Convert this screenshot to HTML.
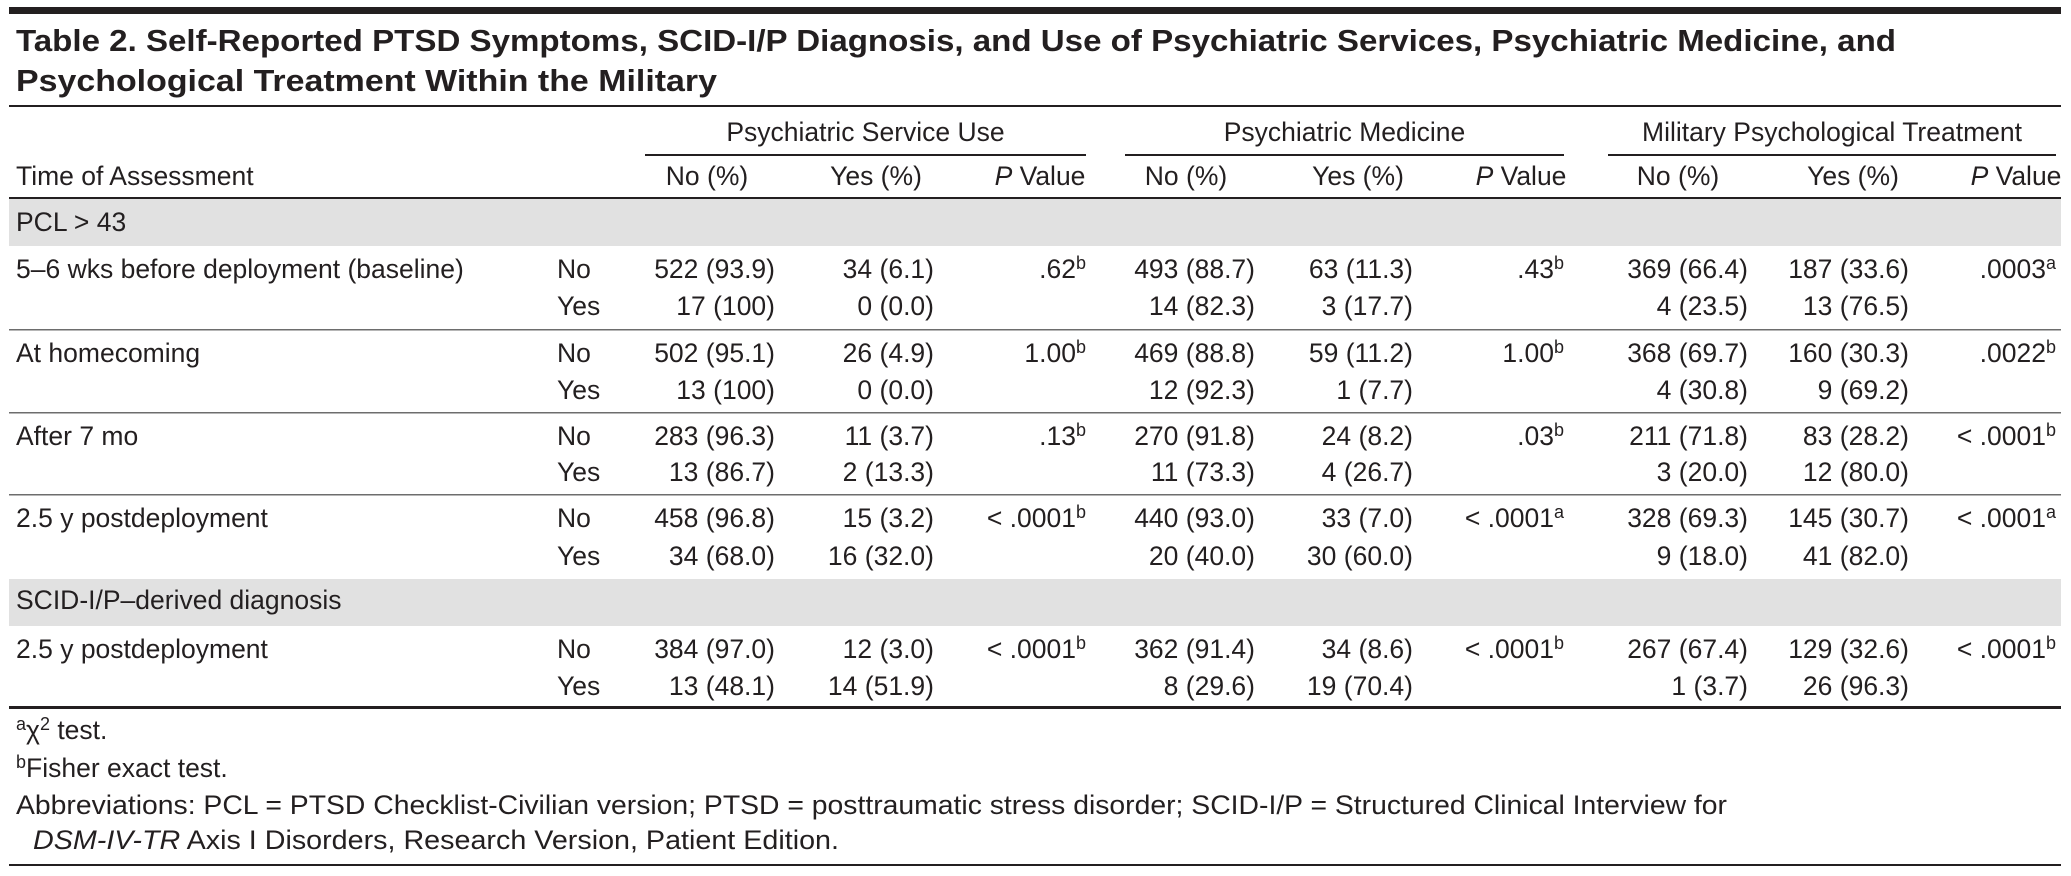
<!DOCTYPE html>
<html><head><meta charset="utf-8"><style>
html,body{margin:0;padding:0;background:#fff;}
svg{display:block;font-family:"Liberation Sans",sans-serif;}
</style></head><body>
<svg id="t" width="2071" height="876" viewBox="0 0 2071 876" xmlns="http://www.w3.org/2000/svg">
<rect x="9" y="7" width="2052" height="7" fill="#231f20"/>
<text x="16" y="51" font-size="31" font-weight="bold" fill="#231f20" textLength="1880" lengthAdjust="spacingAndGlyphs">Table 2. Self-Reported PTSD Symptoms, SCID-I/P Diagnosis, and Use of Psychiatric Services, Psychiatric Medicine, and</text>
<text x="16" y="91" font-size="31" font-weight="bold" fill="#231f20" textLength="701" lengthAdjust="spacingAndGlyphs">Psychological Treatment Within the Military</text>
<rect x="9" y="105" width="2052" height="2" fill="#231f20"/>
<g id="body" fill="#231f20" font-size="26.5"></g>
</svg>
<script>
const groups = ["Psychiatric Service Use","Psychiatric Medicine","Military Psychological Treatment"];
const rowLabels = ["5–6 wks before deployment (baseline)","At homecoming","After 7 mo","2.5 y postdeployment","2.5 y postdeployment"];
const noRows = [
 ["522 (93.9)","34 (6.1)",".62","b","493 (88.7)","63 (11.3)",".43","b","369 (66.4)","187 (33.6)",".0003","a"],
 ["502 (95.1)","26 (4.9)","1.00","b","469 (88.8)","59 (11.2)","1.00","b","368 (69.7)","160 (30.3)",".0022","b"],
 ["283 (96.3)","11 (3.7)",".13","b","270 (91.8)","24 (8.2)",".03","b","211 (71.8)","83 (28.2)","< .0001","b"],
 ["458 (96.8)","15 (3.2)","< .0001","b","440 (93.0)","33 (7.0)","< .0001","a","328 (69.3)","145 (30.7)","< .0001","a"],
 ["384 (97.0)","12 (3.0)","< .0001","b","362 (91.4)","34 (8.6)","< .0001","b","267 (67.4)","129 (32.6)","< .0001","b"]];
const yesRows = [
 ["17 (100)","0 (0.0)","14 (82.3)","3 (17.7)","4 (23.5)","13 (76.5)"],
 ["13 (100)","0 (0.0)","12 (92.3)","1 (7.7)","4 (30.8)","9 (69.2)"],
 ["13 (86.7)","2 (13.3)","11 (73.3)","4 (26.7)","3 (20.0)","12 (80.0)"],
 ["34 (68.0)","16 (32.0)","20 (40.0)","30 (60.0)","9 (18.0)","41 (82.0)"],
 ["13 (48.1)","14 (51.9)","8 (29.6)","19 (70.4)","1 (3.7)","26 (96.3)"]];
const NS="http://www.w3.org/2000/svg";
const body=document.getElementById('body');
function txt(x,y,s,anchor,name,extra){
  const t=document.createElementNS(NS,'text');
  t.setAttribute('x',x);t.setAttribute('y',y);
  if(anchor)t.setAttribute('text-anchor',anchor);
  t.textContent=s;
  
  
  if(extra)for(const k in extra)t.setAttribute(k,extra[k]);
  body.appendChild(t);return t;
}
function sup(t,s){const sp=document.createElementNS(NS,'tspan');sp.setAttribute('dy','-9');sp.setAttribute('font-size','18');sp.textContent=s;t.appendChild(sp);}
function rect(x,y,w,h,fill,name){
  const r=document.createElementNS(NS,'rect');
  r.setAttribute('x',x);r.setAttribute('y',y);r.setAttribute('width',w);r.setAttribute('height',h);r.setAttribute('fill',fill);
  
  
  body.appendChild(r);
}
const gSpan=[[645,1086],[1125,1564],[1608,2056]];
gSpan.forEach((g,i)=>{
  txt((g[0]+g[1])/2,141,groups[i],'middle','group-header');
  rect(g[0],154,g[1]-g[0],2,'#231f20','group-underline');
});
txt(16,185,'Time of Assessment','start','time-column-header');
const rights=[775,934,1086,1255,1413,1564,1748,1909,2056];
const centers=[707,876,1032,1186,1358,1513,1678,1853,2008];
for(let i=0;i<9;i++){
  if(i%3==2){const t=txt(centers[i]+8,185,'','middle','p-value-header');
    const a=document.createElementNS(NS,'tspan');a.setAttribute('font-style','italic');a.textContent='P';t.appendChild(a);
    const b=document.createElementNS(NS,'tspan');b.textContent=' Value';t.appendChild(b);}
  else txt(centers[i],185,i%3==0?'No (%)':'Yes (%)','middle','column-header');
}
rect(9,197,2052,2,'#231f20','header-rule');
rect(9,199,2052,47,'#e1e1e1','section-band');
txt(16,231,'PCL > 43','start','section-label');
const rowY=[[269,306],[353,390],[436,472],[518,556],[649,686]];
rect(9,579,2052,47,'#e1e1e1','section-band');
txt(16,609,'SCID-I/P–derived diagnosis','start','section-label');
[329,412,494].forEach(y=>rect(9,y,2052,1.5,'#6d6d6d','row-separator'));
rowLabels.forEach((lab,r)=>{
  const [y1,y2]=rowY[r];
  txt(16,y1+9,lab,'start','row-label');
  txt(557,y1+9,'No','start','no-label');
  txt(557,y2+9,'Yes','start','yes-label');
  const nr=noRows[r];
  const vals=[nr[0],nr[1],[nr[2],nr[3]],nr[4],nr[5],[nr[6],nr[7]],nr[8],nr[9],[nr[10],nr[11]]];
  vals.forEach((v,i)=>{
    if(Array.isArray(v)){const t=txt(rights[i],y1+9,v[0],'end','p-value');sup(t,v[1]);}
    else txt(rights[i],y1+9,v,'end','cell-no');
  });
  const yr=yesRows[r];const yc=[0,1,3,4,6,7];
  yr.forEach((v,k)=>txt(rights[yc[k]],y2+9,v,'end','cell-yes'));
});
rect(9,706,2052,3,'#231f20','bottom-rule');
let f=txt(16,739,'','start','footnote-a');
let s=document.createElementNS(NS,'tspan');s.setAttribute('font-size','18');s.setAttribute('dy','-9');s.textContent='a';f.appendChild(s);
s=document.createElementNS(NS,'tspan');s.setAttribute('dy','9');s.textContent='χ';f.appendChild(s);
s=document.createElementNS(NS,'tspan');s.setAttribute('font-size','18');s.setAttribute('dy','-9');s.textContent='2';f.appendChild(s);
s=document.createElementNS(NS,'tspan');s.setAttribute('dy','9');s.textContent=' test.';f.appendChild(s);
f=txt(16,777,'','start','footnote-b');
s=document.createElementNS(NS,'tspan');s.setAttribute('font-size','18');s.setAttribute('dy','-9');s.textContent='b';f.appendChild(s);
s=document.createElementNS(NS,'tspan');s.setAttribute('dy','9');s.textContent='Fisher exact test.';f.appendChild(s);
txt(16,814,'Abbreviations: PCL = PTSD Checklist-Civilian version; PTSD = posttraumatic stress disorder; SCID-I/P = Structured Clinical Interview for','start','abbreviations-line-1',{textLength:1711,lengthAdjust:'spacingAndGlyphs'});
f=txt(33,849,'','start','abbreviations-line-2',{textLength:806,lengthAdjust:'spacingAndGlyphs'});
s=document.createElementNS(NS,'tspan');s.setAttribute('font-style','italic');s.textContent='DSM-IV-TR';f.appendChild(s);
s=document.createElementNS(NS,'tspan');s.textContent=' Axis I Disorders, Research Version, Patient Edition.';f.appendChild(s);
rect(9,864,2052,2,'#231f20','footer-rule');
</script>
</body></html>
